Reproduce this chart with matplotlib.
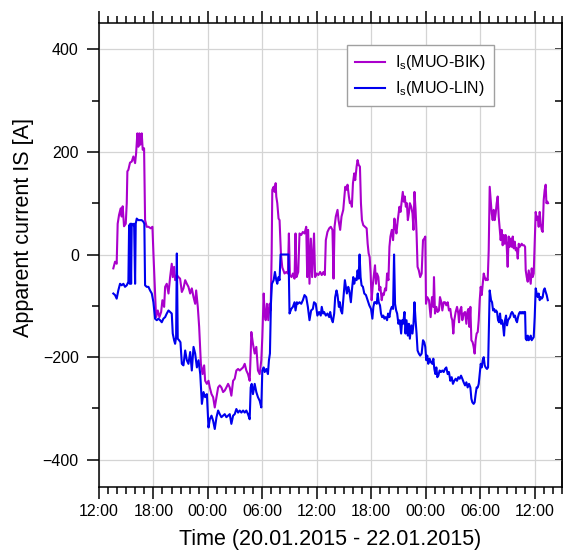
import matplotlib
matplotlib.use("Agg")
import matplotlib.pyplot as plt
import matplotlib.dates as mdates
from matplotlib.ticker import MultipleLocator
import pandas as pd

plt.rcParams["font.family"] = ["Liberation Sans", "DejaVu Sans"]
plt.rcParams["mathtext.fontset"] = "custom"
plt.rcParams["mathtext.rm"] = "Liberation Sans"

# hours since 20.01.2015 12:00, apparent current in A
start = pd.Timestamp("2015-01-20 12:00")

bik_hours = [
    1.58, 1.77, 1.95, 2.06, 2.21, 2.39, 2.50, 2.61, 2.76, 2.95,
    3.06, 3.13, 3.24, 3.42, 3.61, 3.79, 3.98, 4.09, 4.23, 4.34,
    4.45, 4.56, 4.71, 4.82, 4.97, 5.08, 5.26, 5.45, 5.71, 5.89,
    6.00, 6.18, 6.29, 6.48, 6.66, 6.85, 6.99, 7.18, 7.29, 7.47,
    7.66, 7.84, 8.02, 8.13, 8.28, 8.39, 8.58, 8.76, 8.94, 9.13,
    9.31, 9.50, 9.68, 9.86, 10.05, 10.23, 10.42, 10.60, 10.71, 10.89,
    11.04, 11.23, 11.41, 11.59, 11.70, 11.89, 12.07,
    12.21, 12.40, 12.58, 12.76, 12.95, 13.13, 13.31, 13.49, 13.68, 13.86,
    14.04, 14.23, 14.41, 14.59, 14.78, 14.96, 15.14, 15.33, 15.51, 15.69,
    15.88, 16.06, 16.24, 16.42, 16.61, 16.72, 16.79, 16.97, 17.16, 17.34,
    17.52, 17.71, 17.89, 18.00, 18.15, 18.26, 18.37, 18.51, 18.66, 18.81,
    18.92, 19.03, 19.10, 19.25, 19.36, 19.47, 19.54, 19.65,
    19.79, 19.90, 20.05, 20.20, 20.45, 20.64, 20.82, 20.93, 21.04, 21.22,
    21.37, 21.55, 21.66, 21.77, 21.96, 22.10, 22.29, 22.47, 22.65, 22.84,
    22.95, 23.05, 23.20, 23.35, 23.49,
    23.70, 23.82, 24.00, 24.18, 24.37, 24.55, 24.74, 24.89, 25.00, 25.18,
    25.37, 25.55, 25.73, 25.85, 25.96, 26.10, 26.29, 26.40, 26.58, 26.73,
    26.92, 27.03, 27.14, 27.28, 27.39, 27.54, 27.65, 27.76, 27.87, 27.99,
    28.13, 28.24, 28.39, 28.50, 28.61, 28.76, 28.87, 28.98, 29.13, 29.31,
    29.50, 29.61, 29.72, 29.83, 29.94, 30.05, 30.16, 30.27, 30.42, 30.53,
    30.64, 30.79, 30.90, 31.01, 31.16, 31.27, 31.38, 31.53, 31.64, 31.75,
    31.90, 32.01, 32.12, 32.27, 32.41, 32.56, 32.67, 32.78, 32.93, 33.11,
    33.23, 33.34, 33.48, 33.59, 33.70, 33.82, 33.93, 34.04, 34.15, 34.26,
    34.41, 34.55, 34.66, 34.77, 34.89, 35.00, 35.11, 35.25, 35.40,
    35.56, 35.71, 35.85, 35.96, 36.04, 36.18, 36.37, 36.55, 36.70, 36.85,
    36.92, 37.03, 37.18, 37.32, 37.47, 37.58, 37.73, 37.84, 37.99, 38.13,
    38.28, 38.43, 38.57, 38.72, 38.83, 38.94, 39.05, 39.16, 39.31, 39.46,
    39.60, 39.68, 39.79, 39.93, 40.04, 40.19, 40.34, 40.49, 40.60, 40.71,
    40.82, 40.93, 41.04, 41.18, 41.29, 41.40, 41.51, 41.62, 41.74, 41.85,
    41.96, 42.07, 42.18, 42.29, 42.40, 42.51, 42.62, 42.73, 42.84, 42.95,
    43.06, 43.17, 43.28, 43.39, 43.50, 43.61, 43.72, 43.83, 43.94, 44.05,
    44.16, 44.27, 44.38, 44.49, 44.60, 44.71, 44.82, 44.93, 45.04, 45.15,
    45.26, 45.38, 45.49, 45.60, 45.71, 45.82, 45.93, 46.04, 46.15, 46.26,
    46.37, 46.48, 46.59, 46.70, 46.85, 46.96, 47.03, 47.14, 47.25, 47.36,
    47.47, 47.58, 47.69, 47.80, 47.91, 48.02, 48.13, 48.24, 48.35, 48.46,
    48.57, 48.68, 48.79, 48.90, 49.01, 49.12, 49.23, 49.31, 49.42, 49.49,
]
bik_amps = [
    -27, -14, -18, 60, 77, 90, 74, 94, 55, 60,
    100, 162, 165, 179, 181, 191, 178, 197, 236, 210,
    236, 214, 236, 204, 207, 67, 54, 54, 51, 54,
    2, -76, -122, -109, -122, -112, -89, -102, -63, -57,
    -76, -44, -18, -44, -24, -50, -40, -44, -47, -73,
    -66, -50, -57, -63, -76, -66, -83, -96, -70, -102,
    -141, -213, -233, -216, -246, -252, -246,
    -259, -272, -278, -298, -278, -259, -255, -259, -268, -265,
    -259, -252, -259, -275, -246, -242, -226, -223, -226, -223,
    -220, -213, -226, -233, -246, -193, -151, -174, -193, -180,
    -226, -233, -206, -161, -76, -115, -128, -96, -128, -96,
    -109, 2, 126, 132, 122, 139, 113, 100,
    70, 67, 2, -25, -37, -34, -37, 41, -40, -44,
    -37, -47, 41, -44, -34, 41, 38, 44, 41, 54,
    -44, 48, -57, 31, -44,
    41, -44, -37, -40, -34, -40, -34, -40, 28, 44,
    51, 54, 48, -47, 54, 74, 87, 67, 48, 74,
    87, 109, 132, 126, 136, 113, 100, 103, 93, 139,
    158, 145, 171, 184, 175, 171, 100, 67, 57, 54,
    51, 21, 2, -5, -37, -89, -63, -44, -21, -57,
    -37, -44, -70, -63, -89, -76, -79, -66, -70, -37,
    -50, 15, 35, 48, 28, 70, 54, 41, 67, 93,
    83, 100, 122, 103, 113, 93, 100, 67, 80, 100,
    93, 80, 48, 122, 87, 41, -24, -31, -44,
    -37, 28, 31, 35, -96, -83, -89, -122, -83, -102,
    -44, -115, -102, -112, -109, -83, -93, -109, -93, -93,
    -99, -93, -109, -106, -122, -128, -154, -128, -112, -102,
    -115, -132, -109, -102, -128, -115, -112, -135, -112, -106,
    -141, -102, -167, -171, -180, -193, -167, -154, -151, -128,
    -89, -63, -79, -57, -37, -44, -50, -47, -50, 8,
    132, 106, 80, 67, 87, 67, 80, 100, 113, 74,
    51, 28, 48, 18, 38, 21, 38, 18, -24, 35,
    15, 31, 15, 35, 12, 25, 8, 12, -8, 21,
    15, 18, 21, 18, 18, 15, -31, -44, -53, -31,
    -44, -57, -27, -44, -37, 21, 83, 67, 74, 54,
    83, 60, 48, 44, 106, 126, 136, 100, 103, 100,
]

lin_hours = [
    1.58, 1.77, 1.95, 2.13, 2.32, 2.50, 2.69, 2.87, 3.06, 3.24,
    3.32, 3.39, 3.46, 3.54, 3.61, 3.76, 3.87, 3.98, 4.05, 4.16,
    4.34, 4.52, 4.71, 4.89, 5.00, 5.08, 5.26, 5.45, 5.63, 5.82,
    6.00, 6.18, 6.37, 6.55, 6.74, 6.92, 7.10, 7.29, 7.47, 7.66,
    7.84, 8.02, 8.13, 8.28, 8.39, 8.50, 8.58, 8.68, 8.83, 8.98,
    9.13, 9.31, 9.50, 9.68, 9.86, 10.05, 10.23, 10.42, 10.60, 10.79,
    10.97, 11.16, 11.34, 11.52, 11.70, 11.89, 12.07,
    12.21, 12.40, 12.58, 12.76, 12.95, 13.13, 13.31, 13.49, 13.68, 13.86,
    14.04, 14.23, 14.41, 14.59, 14.78, 14.96, 15.14, 15.33, 15.51, 15.69,
    15.88, 16.06, 16.24, 16.42, 16.61, 16.72, 16.83, 16.97, 17.16, 17.34,
    17.52, 17.71, 17.89, 18.00, 18.15, 18.26, 18.44, 18.62, 18.73, 18.84,
    18.95, 19.06, 19.25, 19.39, 19.54, 19.65, 19.79, 19.90, 20.01, 20.89,
    21.00, 21.19, 21.37, 21.55, 21.66, 21.81, 21.92, 22.10, 22.29, 22.47,
    22.65, 22.84, 23.02, 23.20, 23.38, 23.57,
    23.70, 23.89, 24.07, 24.26, 24.44, 24.55, 24.70, 24.81, 25.00, 25.18,
    25.37, 25.48, 25.62, 25.77, 25.92, 26.03, 26.18, 26.29, 26.44, 26.55,
    26.66, 26.80, 26.95, 27.10, 27.21, 27.32, 27.47, 27.58, 27.76, 27.87,
    28.02, 28.13, 28.24, 28.39, 28.50, 28.61, 28.72, 28.83, 28.94, 29.09,
    29.24, 29.42, 29.61, 29.79, 29.98, 30.13, 30.24, 30.35, 30.49, 30.61,
    30.72, 30.83, 30.97, 31.08, 31.20, 31.34, 31.45, 31.60, 31.75, 31.86,
    32.01, 32.12, 32.27, 32.41, 32.52, 32.63, 32.75, 32.86, 33.00, 33.15,
    33.30, 33.41, 33.52, 33.67, 33.78, 33.89, 34.04, 34.15, 34.26, 34.41,
    34.55, 34.66, 34.77, 34.89, 35.00, 35.11, 35.25, 35.40,
    35.56, 35.71, 35.85, 35.96, 36.07, 36.18, 36.29, 36.44, 36.59, 36.74,
    36.85, 36.96, 37.07, 37.18, 37.29, 37.40, 37.54, 37.69, 37.84, 37.99,
    38.13, 38.28, 38.43, 38.57, 38.72, 38.87, 39.01, 39.16, 39.31, 39.46,
    39.60, 39.75, 39.90, 40.04, 40.19, 40.34, 40.49, 40.63, 40.78, 40.93,
    41.04, 41.15, 41.29, 41.40, 41.51, 41.62, 41.74, 41.85, 41.96, 42.07,
    42.18, 42.29, 42.40, 42.51, 42.62, 42.76, 42.88, 42.99, 43.06, 43.21,
    43.32, 43.43, 43.54, 43.65, 43.76, 43.87, 43.98, 44.09, 44.20, 44.31,
    44.42, 44.53, 44.64, 44.75, 44.86, 44.97, 45.08, 45.19, 45.30, 45.41,
    45.52, 45.63, 45.74, 45.85, 45.96, 46.07, 46.18, 46.29, 46.40, 46.51,
    46.63, 46.74, 46.85, 46.96, 47.03, 47.14, 47.25, 47.36, 47.47, 47.58,
    47.69, 47.80, 47.91, 48.02, 48.13, 48.24, 48.35, 48.46, 48.57, 48.68,
    48.79, 48.90, 49.01, 49.12, 49.23, 49.34, 49.46,
]
lin_amps = [
    -76, -79, -86, -70, -57, -60, -57, -63, -60, -53,
    57, -57, 60, -57, 60, 57, 60, -57, 60, 70,
    67, 67, 67, 64, 60, -60, -63, -63, -70, -76,
    -93, -125, -128, -125, -128, -132, -125, -122, -115, -109,
    -112, -115, -154, -167, -174, -161, 2, -164, -167, -171,
    -213, -216, -187, -206, -213, -190, -226, -180, -193, -220,
    -206, -233, -291, -268, -278, -272, -337,
    -321, -314, -324, -340, -317, -304, -311, -317, -314, -311,
    -317, -314, -311, -330, -314, -311, -301, -308, -304, -308,
    -304, -308, -304, -311, -321, -259, -252, -272, -252, -268,
    -278, -285, -298, -226, -220, -229, -223, -233, -206, -193,
    -96, -57, -50, -34, -50, -57, -44, -50, 0, 0,
    -115, -106, -102, -93, -109, -93, -96, -93, -96, -89,
    -79, -83, -102, -128, -109, -106,
    -93, -96, -119, -112, -119, -102, -115, -112, -119, -115,
    -122, -112, -125, -132, -115, -83, -70, -79, -102, -93,
    -109, -115, -83, -50, -63, -76, -63, -70, -93, -70,
    -44, -57, -47, -50, -31, -47, 0, -44, -60, -63,
    -76, -79, -89, -99, -106, -125, -102, -93, -93, -96,
    -76, -93, -99, -115, -122, -119, -125, -122, -128, -115,
    -122, -109, -102, -106, 0, -96, -109, -115, -135, -128,
    -154, -128, -135, -112, -154, -128, -158, -135, -164, -138,
    -154, -135, -93, -128, -154, -187, -193, -197,
    -193, -167, -171, -180, -206, -197, -213, -203, -210, -213,
    -203, -223, -233, -220, -239, -236, -226, -229, -226, -229,
    -223, -220, -233, -229, -246, -239, -252, -246, -242, -246,
    -239, -242, -236, -242, -249, -255, -249, -259, -252, -259,
    -281, -288, -291, -288, -272, -259, -259, -252, -233, -213,
    -220, -206, -200, -216, -220, -223, -220, -128, -70, -89,
    -93, -109, -106, -112, -109, -112, -128, -132, -115, -135,
    -128, -138, -158, -128, -119, -138, -128, -125, -122, -115,
    -112, -115, -122, -119, -128, -132, -122, -115, -112, -115,
    -112, -115, -112, -112, -164, -167, -158, -167, -164, -158,
    -167, -164, -161, -122, -66, -76, -83, -76, -89, -83,
    -86, -83, -70, -66, -73, -79, -89,
]


def to_time(hours):
    return start + pd.to_timedelta(hours, unit="h")


fig = plt.figure(figsize=(5.64, 5.56), dpi=100)
ax = fig.add_axes([0.1755, 0.125, 0.8205, 0.8345])

ax.plot(to_time(bik_hours), bik_amps, color="#aa00cc", lw=1.5,
        label=r"I$_\mathrm{s}$(MUO-BIK)")
ax.plot(to_time(lin_hours), lin_amps, color="#0000ee", lw=1.5,
        label=r"I$_\mathrm{s}$(MUO-LIN)")

ax.set_xlim(start, start + pd.Timedelta(hours=51))
ax.set_ylim(-452, 452)

ax.xaxis.set_major_locator(mdates.HourLocator(byhour=[0, 6, 12, 18]))
ax.xaxis.set_minor_locator(mdates.HourLocator())
ax.xaxis.set_major_formatter(mdates.DateFormatter("%H:%M"))
ax.yaxis.set_major_locator(MultipleLocator(200))
ax.yaxis.set_minor_locator(MultipleLocator(100))

ax.tick_params(axis="x", which="both", direction="out", top=True,
               bottom=True, width=1.1, labelsize=11.5, pad=4)
ax.tick_params(axis="y", which="both", direction="out", left=True,
               right=False, width=1.1, labelsize=11.5, pad=6)
ax.tick_params(which="major", length=8.5)
ax.tick_params(which="minor", length=5)

right = ax.secondary_yaxis("right")
right.yaxis.set_major_locator(MultipleLocator(200))
right.yaxis.set_minor_locator(MultipleLocator(100))
right.tick_params(which="both", direction="in", length=5, width=1.1,
                  labelright=False)
right.spines["right"].set_linewidth(1.1)

for sp in ax.spines.values():
    sp.set_linewidth(1.1)

ax.grid(True, which="major", color="#d4d4d4", lw=0.9)
ax.set_axisbelow(True)

ax.set_xlabel("Time (20.01.2015 - 22.01.2015)", fontsize=15.5)
ax.xaxis.set_label_coords(0.5, -0.092)
ax.set_ylabel("Apparent current IS [A]", fontsize=15.5)
ax.yaxis.set_label_coords(-0.14, 0.559)

leg = ax.legend(loc="upper right", bbox_to_anchor=(0.853, 0.951),
                borderaxespad=0, fontsize=11.5, fancybox=False,
                edgecolor="#a0a0a0", framealpha=1, handlelength=1.9,
                handletextpad=0.6, labelspacing=0.45, borderpad=0.5)
leg.get_frame().set_linewidth(1.0)

fig.savefig("out.png", dpi=100)
